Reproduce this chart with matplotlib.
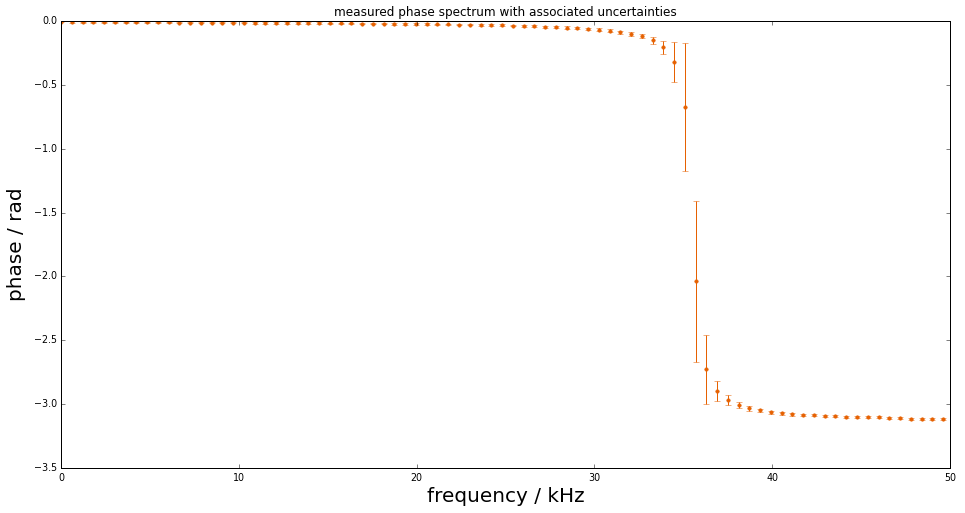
"""
Measured phase spectrum with uncertainties, classic matplotlib look.
"""
import matplotlib
matplotlib.use('Agg')
import matplotlib.pyplot as plt

# frequency / kHz
freq = [
    0.0, 0.605, 1.21, 1.815, 2.42, 3.025, 3.63, 4.235, 4.84, 5.445,
    6.05, 6.655, 7.26, 7.865, 8.47, 9.075, 9.68, 10.285, 10.89, 11.495,
    12.1, 12.705, 13.31, 13.915, 14.52, 15.125, 15.73, 16.335, 16.94, 17.545,
    18.15, 18.755, 19.36, 19.965, 20.57, 21.175, 21.78, 22.385, 22.99, 23.595,
    24.2, 24.805, 25.41, 26.015, 26.62, 27.225, 27.83, 28.435, 29.04, 29.645,
    30.25, 30.855, 31.46, 32.065, 32.67, 33.275, 33.88, 34.485, 35.09, 35.695,
    36.3, 36.905, 37.51, 38.115, 38.72, 39.325, 39.93, 40.535, 41.14, 41.745,
    42.35, 42.955, 43.56, 44.165, 44.77, 45.375, 45.98, 46.585, 47.19, 47.795,
    48.4, 49.005, 49.61,
]

# phase / rad
phase = [
    -0.005, -0.008, -0.009, -0.009, -0.009, -0.010, -0.010, -0.010, -0.011, -0.011,
    -0.011, -0.012, -0.012, -0.013, -0.013, -0.013, -0.014, -0.014, -0.015, -0.015,
    -0.015, -0.016, -0.016, -0.017, -0.017, -0.018, -0.019, -0.019, -0.020, -0.021,
    -0.021, -0.022, -0.023, -0.024, -0.025, -0.026, -0.027, -0.028, -0.029, -0.031,
    -0.032, -0.034, -0.036, -0.038, -0.041, -0.044, -0.047, -0.051, -0.055, -0.061,
    -0.068, -0.076, -0.087, -0.102, -0.120, -0.152, -0.206, -0.324, -0.676, -2.038,
    -2.725, -2.897, -2.968, -3.007, -3.033, -3.049, -3.062, -3.072, -3.080, -3.085,
    -3.087, -3.093, -3.094, -3.100, -3.101, -3.103, -3.104, -3.110, -3.111, -3.114,
    -3.115, -3.115, -3.119,
]

# standard uncertainty / rad
uncert = [
    0.005, 0.005, 0.005, 0.005, 0.005, 0.005, 0.005, 0.005, 0.005, 0.005,
    0.005, 0.005, 0.005, 0.005, 0.005, 0.005, 0.005, 0.005, 0.005, 0.005,
    0.006, 0.006, 0.006, 0.006, 0.006, 0.006, 0.006, 0.006, 0.006, 0.006,
    0.006, 0.006, 0.006, 0.006, 0.006, 0.006, 0.006, 0.006, 0.006, 0.006,
    0.007, 0.007, 0.007, 0.007, 0.008, 0.008, 0.008, 0.009, 0.009, 0.010,
    0.010, 0.011, 0.012, 0.013, 0.015, 0.027, 0.053, 0.157, 0.500, 0.630,
    0.270, 0.082, 0.039, 0.025, 0.017, 0.013, 0.012, 0.011, 0.010, 0.010,
    0.009, 0.009, 0.009, 0.008, 0.008, 0.008, 0.008, 0.008, 0.007, 0.007,
    0.007, 0.007, 0.007,
]

plt.style.use('classic')
DPI = 72
fig = plt.figure(figsize=(965 / DPI, 513 / DPI), dpi=DPI, facecolor='white')
ax = fig.add_axes([61 / 965, 45 / 513, 889 / 965, 447 / 513])

color = '#e66101'
ax.errorbar(freq, phase, yerr=uncert, fmt='.', color=color, ecolor=color,
            markeredgecolor=color, capsize=3, markersize=7)

ax.set_xlim(0, 50)
ax.set_ylim(-3.5, 0.0)
ax.tick_params(labelsize=9.5)
ax.tick_params(axis='x', pad=5)
ax.set_xlabel('frequency / kHz', fontsize=20, labelpad=4)
ax.set_ylabel('phase / rad', fontsize=20, labelpad=8)
ax.set_title('measured phase spectrum with associated uncertainties', fontsize=12)

fig.savefig('out.png', dpi=DPI, facecolor='white')
plt.close(fig)
